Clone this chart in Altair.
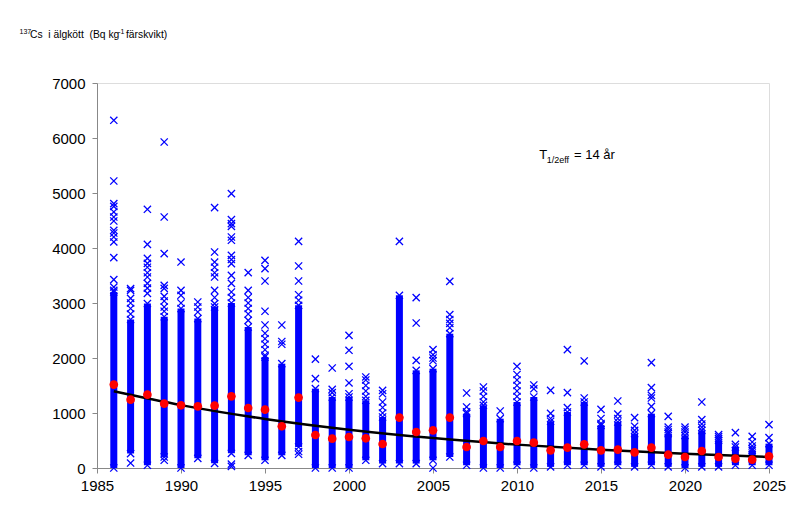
import altair as alt
import pandas as pd

# ---- data ----
years = list(range(1986, 2026))

means = [1516, 1243, 1334, 1170, 1140, 1121, 1134, 1303, 1091, 1061,
         758, 1280, 600, 534, 564, 540, 436, 916, 655, 685,
         917, 382, 491, 382, 491, 461, 321, 370, 430, 321,
         333, 285, 370, 242, 200, 309, 200, 170, 152, 212]

band_lo = [0, 262, 50, 200, 0, 176, 85, 267, 230, 140,
           230, 382, 0, 0, 0, 140, 80, 80, 80, 140,
           200, 50, 0, 0, 50, 0, 20, 50, 50, 20,
           50, 20, 50, 20, 0, 20, 20, 50, 50, 50]

band_hi = [3200, 2700, 2990, 2750, 2900, 2716, 2927, 3000, 2564, 2018,
           1897, 2958, 1443, 1291, 1291, 1231, 927, 3140, 1776, 1806,
           2442, 988, 1140, 897, 1200, 1291, 850, 1018, 1200, 776,
           836, 624, 988, 624, 594, 685, 503, 382, 321, 443]

outliers = [
    [3230, 3290, 3425, 3825, 4110, 4200, 4273, 4322, 4491, 4564, 4655, 4758, 4807, 5218, 6322],
    [2800, 2900, 3000, 3085, 3230, 3262, 90],
    [3176, 3270, 3358, 3473, 3550, 3650, 3720, 3812, 4067, 4704],
    [2850, 2927, 3036, 3121, 3267, 3321, 3898, 4564, 5927, 140],
    [3000, 3140, 3230, 3745],
    [2836, 2927, 3018],
    [2989, 3100, 3230, 3473, 3550, 3650, 3745, 3927, 4734],
    [3100, 3200, 3358, 3503, 3716, 3790, 3867, 4140, 4200, 4394, 4443, 4516, 4989, 30, 70],
    [2685, 2800, 2900, 3000, 3100, 3230, 3552],
    [2050, 2150, 2250, 2350, 2450, 2600, 2850, 3400, 3625, 3776],
    [2250, 2300, 2600],
    [3050, 3150, 3400, 3673, 4121, 250, 300],
    [1625, 1980],
    [1370, 1430, 1818],
    [1350, 1546, 1849, 2140, 2412],
    [1300, 1400, 1500, 1600, 1655],
    [1000, 1100, 1200, 1350, 1412],
    [4121],
    [1958, 2636, 3097],
    [1950, 2000, 2060, 2152, 0],
    [2550, 2630, 2700, 2790, 3394],
    [1020, 1110, 1364],
    [1200, 1300, 1400, 1473],
    [1036],
    [1300, 1400, 1500, 1600, 1700, 1849],
    [1440, 1510],
    [900, 994, 1412],
    [1097, 1370, 2152],
    [1273, 1946],
    [810, 900, 1067],
    [900, 980, 1218],
    [685, 760, 915],
    [1121, 1273, 1321, 1461, 1915],
    [655, 700, 745, 939],
    [655, 700, 745],
    [740, 800, 879, 1200],
    [533, 570, 606],
    [430, 642],
    [352, 400, 473, 576],
    [552, 788],
]

curve_years = [1986, 1990, 1995, 2000, 2005, 2010, 2015, 2020, 2025]
curve_vals = [1394, 1143, 892, 697, 544, 425, 332, 259, 202]

x_ticks = [1985, 1990, 1995, 2000, 2005, 2010, 2015, 2020, 2025]
y_ticks = [0, 1000, 2000, 3000, 4000, 5000, 6000, 7000]

# ---- tables ----
bands = pd.DataFrame({"year": years, "lo": band_lo, "hi": band_hi})
pts_rows = []
for y, lo, hi, outs in zip(years, band_lo, band_hi, outliers):
    pts_rows.append({"year": y, "v": lo})
    pts_rows.append({"year": y, "v": hi})
    for v in outs:
        pts_rows.append({"year": y, "v": v})
pts = pd.DataFrame(pts_rows)
mean_df = pd.DataFrame({"year": years, "mean": means})
curve_df = pd.DataFrame({"year": curve_years, "v": curve_vals})

BLUE = "#0000FF"
FONT = "Liberation Sans"

xs = alt.Scale(domain=[1985, 2025], nice=False, zero=False)
ys = alt.Scale(domain=[0, 7000], nice=False)

xax = alt.Axis(values=x_ticks, format="d", title=None, grid=False,
               labelFontSize=15, labelFont=FONT, labelColor="black",
               tickSize=5, labelPadding=5, domainColor="#888888",
               tickColor="#888888", labelFlush=False)
yax = alt.Axis(values=y_ticks, format="d", title=None, grid=False,
               labelFontSize=15, labelFont=FONT, labelColor="black",
               tickSize=5, labelPadding=7, domainColor="#888888",
               tickColor="#888888")

X = alt.X("year:Q", scale=xs, axis=xax)

band_layer = alt.Chart(bands).mark_rule(color=BLUE, strokeWidth=7, strokeCap="butt").encode(
    x=X,
    y=alt.Y("lo:Q", scale=ys, axis=yax),
    y2="hi:Q",
)

cross_layer = alt.Chart(pts).mark_point(
    shape="M-1,-1L1,1M-1,1L1,-1", filled=False, stroke=BLUE,
    strokeWidth=1.3, size=52, opacity=1,
).encode(x="year:Q", y="v:Q")

curve_layer = alt.Chart(curve_df).mark_line(
    color="black", strokeWidth=2.5, interpolate="monotone"
).encode(x="year:Q", y="v:Q")

mean_layer = alt.Chart(mean_df).mark_circle(
    color="#FF0000", size=75, opacity=1
).encode(x="year:Q", y="mean:Q")


def txt(s, x, y, size):
    return alt.Chart(pd.DataFrame({"t": [s]})).mark_text(
        align="left", baseline="alphabetic", font=FONT, fontSize=size, color="black"
    ).encode(x=alt.value(x), y=alt.value(y), text="t:N")


annos = [
    txt("137", -77.5, -48.7, 7),
    txt("Cs\u00a0 i älgkött\u00a0 (Bq kg", -67, -45.3, 10.3),
    txt("-1", 21.2, -49.3, 7),
    txt("färskvikt)", 29, -45.3, 10.3),
    txt("T", 442.3, 76.3, 13),
    txt("1/2eff", 449.7, 79.7, 9),
    txt("= 14 år", 477, 76.3, 13),
]

chart = alt.layer(band_layer, cross_layer, curve_layer, mean_layer, *annos).properties(
    width=672, height=385,
    autosize=alt.AutoSizeParams(type="none"),
    padding={"left": 89, "top": 75, "right": 23, "bottom": 37},
).configure_view(strokeWidth=0).configure(background="white")

chart.save("out.html", embed_options={"renderer": "svg", "actions": False})
